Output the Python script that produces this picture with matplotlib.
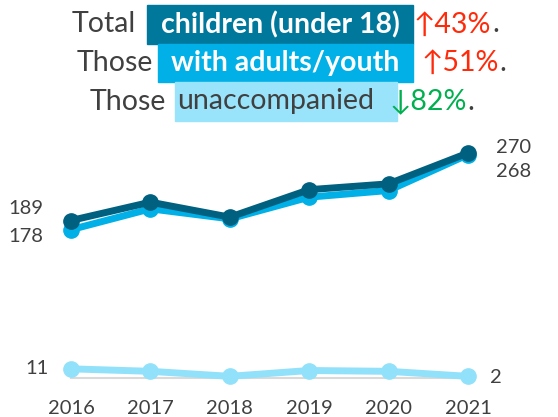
import matplotlib
matplotlib.use("Agg")
import matplotlib.pyplot as plt
from matplotlib.patches import Rectangle

plt.rcParams['font.family'] = ['Lato', 'DejaVu Sans']

years = [2016, 2017, 2018, 2019, 2020, 2021]
total = [189, 211, 193, 226, 233, 270]
with_adults = [178, 203, 191, 217, 225, 268]
unaccompanied = [11, 8, 2, 9, 8, 2]

c_total = '#00607F'
c_adults = '#00B0E6'
c_unacc = '#92E1FA'
c_text = '#404040'
c_up = '#FF2A0A'
c_down = '#00B050'

W, H = 558, 417
fig = plt.figure(figsize=(W / 100, H / 100), dpi=100)

def fx(px):
    return px / W

def fy(py):
    return 1 - py / H

# plot area: 2016 at x=71px, 2021 at x=468px; 0 at y=378px, 270 at y=153px
ax = fig.add_axes([fx(71), fy(378), fx(468) - fx(71), fy(153) - fy(378)])
ax.set_xlim(2016, 2021)
ax.set_ylim(0, 270)
ax.axis('off')

ax.plot([years[0], years[-1]], [0, 0], color='#D9D9D9', lw=1.5, clip_on=False, zorder=1)
ax.plot(years, unaccompanied, color=c_unacc, lw=5, marker='o', ms=11, clip_on=False, zorder=2)
ax.plot(years, with_adults, color=c_adults, lw=5, marker='o', ms=11, clip_on=False, zorder=3)
ax.plot(years, total, color=c_total, lw=5, marker='o', ms=11, clip_on=False, zorder=4)

fs = 14.5
# data labels
ax.annotate(str(total[0]), (years[0], total[0]), xytext=(-20, 9), textcoords='offset points',
            ha='right', va='center', fontsize=fs, color=c_text)
ax.annotate(str(with_adults[0]), (years[0], with_adults[0]), xytext=(-20, -5), textcoords='offset points',
            ha='right', va='center', fontsize=fs, color=c_text)
ax.annotate(str(total[-1]), (years[-1], total[-1]), xytext=(20, 4), textcoords='offset points',
            ha='left', va='center', fontsize=fs, color=c_text)
ax.annotate(str(with_adults[-1]), (years[-1], with_adults[-1]), xytext=(20, -12), textcoords='offset points',
            ha='left', va='center', fontsize=fs, color=c_text)
ax.annotate(str(unaccompanied[0]), (years[0], unaccompanied[0]), xytext=(-16, 0), textcoords='offset points',
            ha='right', va='center', fontsize=fs, color=c_text)
ax.annotate(str(unaccompanied[-1]), (years[-1], unaccompanied[-1]), xytext=(16, -1), textcoords='offset points',
            ha='left', va='center', fontsize=fs, color=c_text)

# x tick labels
for yr in years:
    ax.annotate(str(yr), (yr, 0), xytext=(0, -22), textcoords='offset points',
                ha='center', va='center', fontsize=fs, color=c_text)

# headline lines
tfs = 20.5
lines = [
    # lead, lead right edge, box text, box (x0, x1, y0, y1), box colour, text colour, weight, arrow, arrow colour, arrow x
    ("Total", 136, "children (under 18)", (147, 413, 5, 44), '#00789C', 'white', 'bold', "↑43%", c_up, 414),
    ("Those", 153, "with adults/youth", (158, 413, 44, 82), '#00B0E6', 'white', 'bold', "↑51%", c_up, 421),
    ("Those", 166, "unaccompanied", (175, 397, 82, 121), '#99E3FB', c_text, 'normal', "↓82%", c_down, 389),
]

fig.canvas.draw()
r = fig.canvas.get_renderer()
for lead, lx, btxt, (x0, x1, y0, y1), bcol, tcol, wt, arr, acol, ax_ in lines:
    yc = fy((y0 + y1) / 2)
    fig.patches.append(Rectangle((fx(x0), fy(y1)), fx(x1) - fx(x0), fy(y0) - fy(y1),
                                 transform=fig.transFigure, color=bcol, zorder=0))
    fig.text(fx(lx), yc, lead, ha='right', va='center', fontsize=tfs, color=c_text)
    if wt == 'bold':
        fig.text(fx((x0 + x1) / 2), yc, btxt, ha='center', va='center', fontsize=tfs, color=tcol, weight=wt)
    else:
        fig.text(fx(x0 + 2), yc, btxt, ha='left', va='center', fontsize=tfs, color=tcol, weight=wt)
    t = fig.text(fx(ax_), yc, arr, ha='left', va='center', fontsize=tfs, color=acol)
    bb = t.get_window_extent(renderer=r)
    fig.text(bb.x1 / fig.dpi / fig.get_figwidth() + 0.002, yc, ".", ha='left', va='center',
             fontsize=tfs, color=c_text)

fig.savefig("out.png", dpi=100)
